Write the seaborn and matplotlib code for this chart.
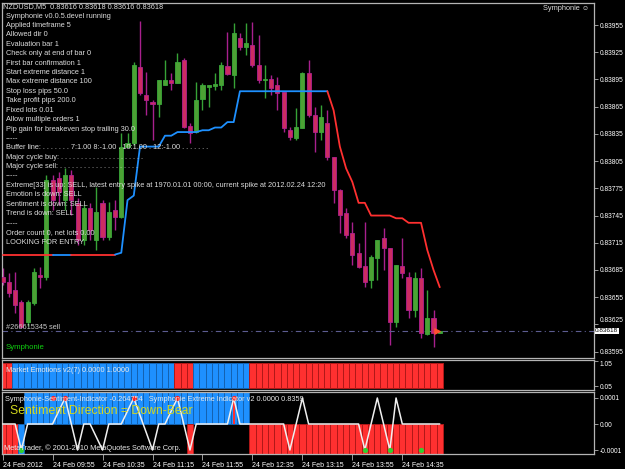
import numpy as np
import matplotlib
matplotlib.use('Agg')
import matplotlib.pyplot as plt
import matplotlib.transforms as mtransforms
import seaborn as sns

# NZDUSD M5, 24 Feb 2012 from 09:15, prices in points (1e-5)
opens = [83677, 83672, 83663, 83650, 83628, 83649, 83680, 83677, 83784, 83786,
         83762, 83790, 83759, 83718, 83753, 83718, 83759, 83721, 83751, 83743,
         83821, 83825, 83909, 83878, 83870, 83868, 83889, 83894, 83891, 83916,
         83844, 83837, 83873, 83887, 83888, 83889, 83910, 83900, 83941, 83931,
         83933, 83911, 83894, 83896, 83889, 83881, 83839, 83830, 83842, 83902,
         83856, 83837, 83847, 83810, 83773, 83748, 83726, 83704, 83689, 83674,
         83698, 83720, 83709, 83628, 83689, 83677, 83641, 83676, 83615, 83632,
         83616]
highs = [83687, 83682, 83683, 83652, 83652, 83687, 83688, 83790, 83790, 83793,
         83797, 83795, 83764, 83757, 83759, 83776, 83762, 83760, 83762, 83836,
         83836, 83914, 83959, 83903, 83872, 83894, 83916, 83902, 83924, 83919,
         83847, 83892, 83891, 83889, 83902, 83914, 83947, 83957, 83946, 83957,
         83958, 83944, 83911, 83900, 83898, 83881, 83843, 83864, 83903, 83916,
         83865, 83867, 83861, 83810, 83774, 83753, 83738, 83715, 83738, 83702,
         83718, 83731, 83709, 83690, 83720, 83683, 83683, 83687, 83663, 83641,
         83618]
lows = [83668, 83655, 83638, 83621, 83623, 83646, 83665, 83674, 83751, 83757,
        83751, 83746, 83713, 83713, 83718, 83707, 83718, 83718, 83729, 83742,
        83820, 83823, 83878, 83856, 83828, 83854, 83889, 83883, 83891, 83842,
        83825, 83836, 83861, 83865, 83883, 83883, 83900, 83886, 83927, 83922,
        83909, 83891, 83875, 83878, 83861, 83837, 83828, 83828, 83842, 83854,
        83815, 83828, 83806, 83759, 83726, 83720, 83690, 83687, 83666, 83665,
        83674, 83685, 83602, 83622, 83676, 83632, 83633, 83610, 83613, 83600,
        83616]
closes = [83672, 83660, 83646, 83622, 83650, 83683, 83677, 83784, 83762, 83771,
          83790, 83762, 83718, 83753, 83729, 83749, 83721, 83749, 83743, 83821,
          83825, 83911, 83880, 83872, 83868, 83894, 83894, 83891, 83914, 83843,
          83836, 83872, 83889, 83889, 83890, 83911, 83901, 83946, 83931, 83935,
          83911, 83894, 83896, 83886, 83880, 83842, 83832, 83843, 83902, 83856,
          83837, 83854, 83810, 83773, 83746, 83724, 83702, 83688, 83672, 83699,
          83718, 83709, 83628, 83690, 83682, 83641, 83676, 83616, 83632, 83616,
          83618]

# trailing buffer line (points) and its colour per bar (R red / B blue)
trail = [83702, 83702, 83702, 83702, 83702, 83702, 83702, 83702, 83702, 83702,
         83702, 83702, 83702, 83702, 83702, 83702, 83702, 83702, 83702, 83704,
         83762, 83767, 83821, 83821, 83821, 83821, 83833, 83833, 83837, 83837,
         83837, 83837, 83839, 83839, 83842, 83842, 83848, 83848, 83882, 83882,
         83882, 83882, 83882, 83882, 83882, 83882, 83882, 83882, 83882, 83882,
         83882, 83882, 83882, 83861, 83821, 83797, 83782, 83759, 83759, 83745,
         83745, 83745, 83745, 83742, 83742, 83737, 83737, 83737, 83707, 83685,
         83666]
trail_dir = ("RRRRRRRRR" "BBB" "RRRRRRR"
             "BBBBBBBBBBBBBBBBBBBBBBBBBBBBBBBBBB"
             "RRRRRRRRRRRRRRRRRR")

# Market Emotions histogram colour per bar
emotion = ("RR" "BBBBBBBBBBBBBBBBBBBBBBBBBB" "RRR" "BBBBBBBBB"
           "RRRRRRRRRRRRRRRRRRRRRRRRRRRRRRR")

# Sentiment histogram: upper and lower bars per bar ('.' = none)
sent_up = ("...." "BBBBBBBBBBBBBBBBBBBBBBBBBBBBBBBBBBBB"
           "...............................")
sent_down = ("RRR" "B" ".........................." "R" "........."
             "RRRRRRRRRRRRRRRRRRRRRRRRRRRRRRR")
extreme_bars = [37]

# Sentiment line, units of 0.0001
sentiment = [0, 0, 0, -1, 0, 0, 0, 0, 0, 0.5,
             1, 0, -1, 0, 0, -0.5, -1, 0, 0, 0,
             0.5, 1, 0.33, -0.33, -1, 0, 0, 0.5, 1, 0,
             -1, 0, 0, 0, 0, 0, 0, 1, 0, 0,
             0, 0, 0, 0, 0, 0, -1, 0, 1, 0,
             0, 0, 0, 0, 0, 0, 0, 0, -1, 0,
             1, 0, -1, 1, 0, 0, 0, 0, 0, 0,
             0]
red_dot_bars = [8, 10, 21, 28, 37]
red_dot_vals = [1, 1, 1, 1, 1]
green_dot_bars = [3, 58, 62, 67]
green_dot_vals = [-1, -1, -1, -1]

time_ticks = [0, 8, 16, 24, 32, 40, 48, 56, 64]
time_labels = ['24 Feb 2012', '24 Feb 09:55', '24 Feb 10:35', '24 Feb 11:15',
               '24 Feb 11:55', '24 Feb 12:35', '24 Feb 13:15', '24 Feb 13:55',
               '24 Feb 14:35']
price_ticks = [0.83955, 0.83925, 0.83895, 0.83865, 0.83835, 0.83805, 0.83775,
               0.83745, 0.83715, 0.83685, 0.83655, 0.83625, 0.83595]
last_price = 0.83618

info_lines = [
    'Symphonie v0.0.5.devel running',
    'Applied timeframe 5',
    'Allowed dir 0',
    'Evaluation bar 1',
    'Check only at end of bar 0',
    'First bar confirmation 1',
    'Start extreme distance 1',
    'Max extreme distance 100',
    'Stop loss pips 50.0',
    'Take profit pips 200.0',
    'Fixed lots 0.01',
    'Allow multiple orders 1',
    'Pip gain for breakeven stop trailing 30.0',
    '-----',
    'Buffer line: . . . . . . . 7:1.00 8:-1.00 . 10:1.00 . 12:-1.00 . . . . . . .',
    'Major cycle buy: . . . . . . . . . . . . . . . . . . . . .',
    'Major cycle sell: . . . . . . . . . . . . . . . . . . . .',
    '-----',
    'Extreme[33] is up: SELL, latest entry spike at 1970.01.01 00:00, current spike at 2012.02.24 12:20',
    'Emotion is down: SELL',
    'Sentiment is down: SELL',
    'Trend is down: SELL',
    '-----',
    'Order count 0, net lots 0.00',
    'LOOKING FOR ENTRY',
]

sns.set_theme(style='dark', rc={'figure.facecolor': 'black', 'axes.facecolor': 'black',
                                'axes.edgecolor': '#b4b4b4', 'axes.grid': False})
plt.rcParams['font.family'] = ['Liberation Sans', 'DejaVu Sans']

W, H = 625, 469
fig = plt.figure(figsize=(W / 100, H / 100), dpi=100)

def px_axes(top, bottom):
    return fig.add_axes([2 / W, 1 - bottom / H, 592 / W, (bottom - top) / H])

ax1 = px_axes(3, 358)
ax2 = px_axes(360, 390)
ax3 = px_axes(392, 454)

o, h, l, c = (np.array(v) / 1e5 for v in (opens, highs, lows, closes))
x = np.arange(len(o))
xlim = (-0.1, -0.1 + 592 / 6.245)

RED, BLUE = '#ff3030', '#1e90ff'
RED_DK, BLUE_DK = '#b01818', '#1462b0'
TXT = '#dcdcdc'

# ---- main price panel
up = c >= o
ax1.vlines(x[up], l[up], h[up], color='#36a236', lw=1)
ax1.vlines(x[~up], l[~up], h[~up], color='#a8208e', lw=1)
ax1.bar(x[up], np.maximum(c[up] - o[up], 1e-6), bottom=o[up], width=0.66,
        color='#4ca234', edgecolor='#3aa83a', lw=0.6, zorder=3)
ax1.bar(x[~up], np.minimum(c[~up] - o[~up], -1e-6), bottom=o[~up], width=0.66,
        color='#cc2c62', edgecolor='#b0208e', lw=0.6, zorder=3)

# trailing line, drawn in colour runs (segment i-1 -> i takes colour of bar i)
start = 0
for i in range(1, len(trail) + 1):
    if i == len(trail) or trail_dir[i] != trail_dir[start + 1]:
        xs = x[start:i]
        ys = np.array(trail[start:i]) / 1e5
        col = RED if trail_dir[start + 1] == 'R' else BLUE
        sns.lineplot(x=xs, y=ys, color=col, lw=1.3, ax=ax1, estimator=None, sort=False, zorder=4)
        start = i - 1

ax1.axhline(last_price, color='#5c5c90', lw=0.8, dashes=(5, 3, 1, 3), zorder=2)
ax1.scatter([69.6], [last_price], marker='>', s=14, color='#ff5030', zorder=5)

ax1.set_xlim(*xlim)
ax1.set_ylim(0.83955 - 333 * 1.1021e-5, 0.83955 + 22 * 1.1021e-5)
ax1.yaxis.tick_right()
ax1.set_yticks(price_ticks)
ax1.set_yticklabels([f'{p:.5f}' for p in price_ticks])
ax1.set_xticks([])
ax1.text(1.002, last_price, f'{last_price:.5f}', color='black', fontsize=4.6,
         transform=mtransforms.blended_transform_factory(ax1.transAxes, ax1.transData),
         ha='left', va='center', bbox=dict(fc='white', ec='none', pad=0.3), clip_on=False)

# ---- Market Emotions panel
ax2.bar(x, [1] * len(x), width=1.0,
        color=[RED if e == 'R' else BLUE for e in emotion],
        edgecolor=[RED_DK if e == 'R' else BLUE_DK for e in emotion], lw=0.7)
ax2.set_xlim(*xlim)
ax2.set_ylim(-0.1, 1.1)
ax2.yaxis.tick_right()
ax2.set_yticks([1.05, 0.05])
ax2.set_yticklabels(['1.05', '0.05'])
ax2.set_xticks([])

# ---- Sentiment panel
for i, s in enumerate(sent_up):
    if s == 'B':
        ax3.bar(i, 2, width=1.0, color=BLUE, edgecolor=BLUE_DK, lw=0.7)
for i, s in enumerate(sent_down):
    if s != '.':
        ax3.bar(i, -2, width=1.0, color=RED if s == 'R' else BLUE,
                edgecolor=RED_DK if s == 'R' else BLUE_DK, lw=0.7)
ax3.bar(extreme_bars, [1] * len(extreme_bars), width=0.35, color=RED, lw=0, zorder=3)
sns.lineplot(x=x, y=sentiment, color='#f0f0f0', lw=1.1, ax=ax3, estimator=None, zorder=4)
sns.scatterplot(x=red_dot_bars, y=red_dot_vals, color='#ff2020', s=14, lw=0, ax=ax3, zorder=5)
sns.scatterplot(x=green_dot_bars, y=green_dot_vals, color='#30d030', s=14, lw=0, ax=ax3, zorder=5)
ax3.set_xlim(*xlim)
ax3.set_ylim(-30 / 26, 32 / 26)
ax3.yaxis.tick_right()
ax3.set_yticks([1, 0, -1])
ax3.set_yticklabels(['0.0001', '0.00', '-0.0001'])
ax3.set_xticks(time_ticks)
ax3.set_xticklabels(time_labels, ha='left')

for ax in (ax1, ax2, ax3):
    ax.set_xlabel('')
    ax.set_ylabel('')
    for sp in ax.spines.values():
        sp.set_color('#b4b4b4')
        sp.set_linewidth(0.9)
    ax.tick_params(axis='y', colors='#b4b4b4', labelcolor='white', labelsize=4.8,
                   length=3, width=0.6, pad=1, left=False, right=True)
    ax.tick_params(axis='x', colors='#b4b4b4', labelcolor='white', labelsize=5,
                   length=4, width=0.6, pad=1.5, bottom=True)

# top label of the emotions scale sits under its tick, as in the terminal
ax2.get_yticklabels()[0].set_va('top')
# the scale label just above the current-price box is nudged up a little
ax1.get_yticklabels()[-2].set_va('bottom')

# ---- overlay texts
def ftext(px, py, s, **kw):
    kw.setdefault('color', TXT)
    kw.setdefault('fontsize', 5.3)
    fig.text(px / W, 1 - py / H, s, ha='left', va='center', **kw)

ftext(3, 7, 'NZDUSD,M5  0.83616 0.83618 0.83616 0.83618')
for k, line in enumerate(info_lines):
    ftext(6, 16 + 9.42 * k, line)
ftext(6, 327, '#266615345 sell', color='#c8c8c8')
ftext(6, 347, 'Symphonie', color='#10d010', fontsize=5.6)
ftext(543, 9, 'Symphonie \u263a', fontsize=5.3)
ftext(6, 370, 'Market Emotions v2(7) 0.0000 1.0000', color='#e8e8e8')
ftext(5, 399, 'Symphonie-Sentiment-Indicator -0.264754   Symphonie Extreme Indicator v2 0.0000 0.8359',
      color='#e8e8e8')
ftext(10, 411, 'Sentiment Direction = Down-Bear', color='#d4d81c', fontsize=8.8)
ftext(4, 448, 'MetaTrader, \u00a9 2001-2010 MetaQuotes Software Corp.', color='#e8e8e8')

fig.savefig('out.png', dpi=100, facecolor='black')
